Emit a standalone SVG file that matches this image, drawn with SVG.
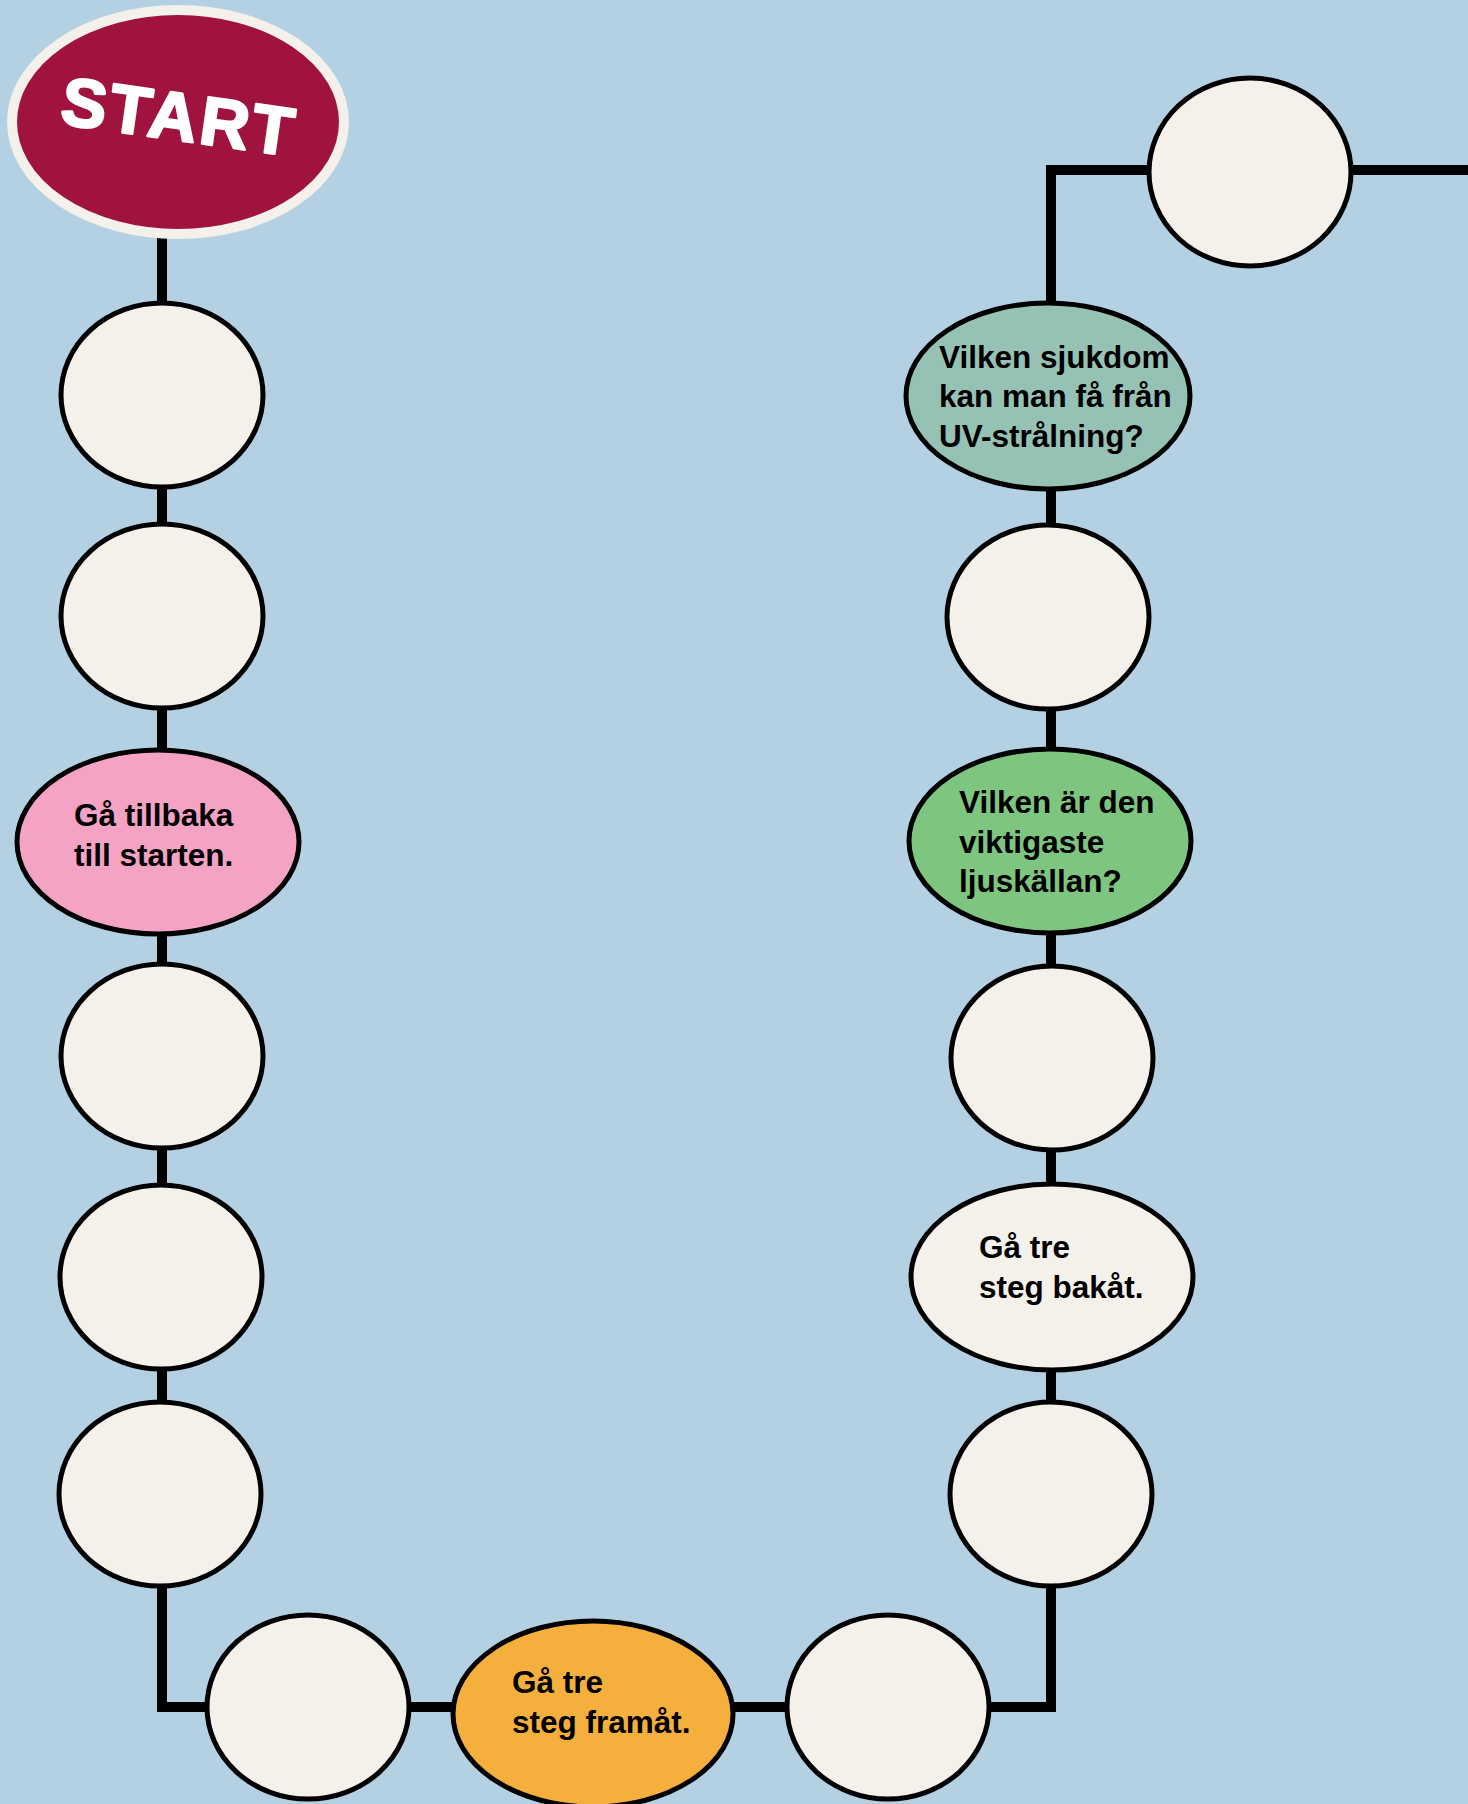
<svg xmlns="http://www.w3.org/2000/svg" width="1468" height="1804" viewBox="0 0 1468 1804">
<style>
.bg{fill:#b4d0e3}
.sp{stroke:#000;stroke-width:5}
.plain{fill:#f4f0ea}
.lbl{font-family:"Liberation Sans",Arial,sans-serif;font-weight:bold;font-size:31.5px;fill:#000}
.conn{fill:none;stroke:#000;stroke-width:10;stroke-linejoin:miter;stroke-linecap:butt}
</style>
<rect class="bg" x="0" y="0" width="1468" height="1804"/>
<g id="connectors">
<path class="conn" d="M162,235 V1707 H1051 V170 H1468"/>
</g>
<g id="start">
<ellipse cx="178" cy="122" rx="166" ry="112" fill="#a1133f" stroke="#f4f0ea" stroke-width="10"/>
<text x="176" y="140" text-anchor="middle" transform="rotate(8 176 140)" font-family="'Liberation Sans',Arial,sans-serif" font-weight="bold" font-size="68" letter-spacing="3" fill="#fff" stroke="#fff" stroke-width="2.5" stroke-linejoin="round">START</text>
</g>
<g id="n1"><ellipse class="plain sp" cx="162" cy="395" rx="101" ry="92"/></g>
<g id="n2"><ellipse class="plain sp" cx="162" cy="616" rx="101" ry="92"/></g>
<g id="n3"><ellipse class="sp" fill="#f4a3c4" cx="158" cy="842" rx="141" ry="92"/>
<text class="lbl"><tspan x="74" y="826">Gå tillbaka</tspan><tspan x="74" y="866">till starten.</tspan></text></g>
<g id="n4"><ellipse class="plain sp" cx="162" cy="1056" rx="101" ry="92"/></g>
<g id="n5"><ellipse class="plain sp" cx="161" cy="1277" rx="101" ry="92"/></g>
<g id="n6"><ellipse class="plain sp" cx="160" cy="1494" rx="101" ry="92"/></g>
<g id="n7"><ellipse class="plain sp" cx="308" cy="1707" rx="101" ry="92"/></g>
<g id="n8"><ellipse class="sp" fill="#f5af3c" cx="593" cy="1714" rx="140" ry="93"/>
<text class="lbl"><tspan x="512" y="1693">Gå tre</tspan><tspan x="512" y="1733">steg framåt.</tspan></text></g>
<g id="n9"><ellipse class="plain sp" cx="888" cy="1707" rx="101" ry="92"/></g>
<g id="n10"><ellipse class="plain sp" cx="1051" cy="1494" rx="101" ry="92"/></g>
<g id="n11"><ellipse class="plain sp" cx="1052" cy="1277" rx="141" ry="93"/>
<text class="lbl"><tspan x="979" y="1258">Gå tre</tspan><tspan x="979" y="1298">steg bakåt.</tspan></text></g>
<g id="n12"><ellipse class="plain sp" cx="1052" cy="1058" rx="101" ry="92"/></g>
<g id="n13"><ellipse class="sp" fill="#7ec67f" cx="1050" cy="841" rx="141" ry="92"/>
<text class="lbl"><tspan x="959" y="813">Vilken är den</tspan><tspan x="959" y="853">viktigaste</tspan><tspan x="959" y="892">ljuskällan?</tspan></text></g>
<g id="n14"><ellipse class="plain sp" cx="1048" cy="617" rx="101" ry="92"/></g>
<g id="n15"><ellipse class="sp" fill="#96c2b5" cx="1048" cy="396" rx="142" ry="93"/>
<text class="lbl"><tspan x="939" y="368">Vilken sjukdom</tspan><tspan x="939" y="407">kan man få från</tspan><tspan x="939" y="447">UV-strålning?</tspan></text></g>
<g id="n16"><ellipse class="plain sp" cx="1250" cy="172" rx="101" ry="94"/></g>
</svg>
